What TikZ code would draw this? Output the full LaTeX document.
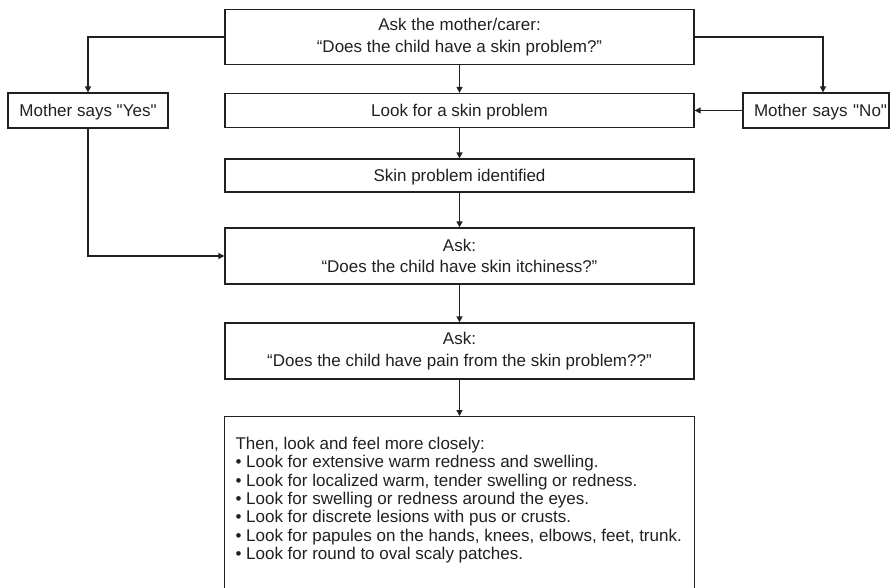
\documentclass[tikz,border=0pt]{standalone}
\usepackage{fontspec}
\setmainfont{Liberation Sans}[Ligatures=TeXOff]
\usetikzlibrary{arrows.meta}
\definecolor{ink}{HTML}{231F20}
\begin{document}
\begin{tikzpicture}[x=1pt,y=-1pt,
  box/.style={draw=ink, line width=1.3pt, text=ink, minimum width=469pt, inner sep=0pt, align=center, font=\fontsize{17pt}{21.5pt}\selectfont},
  oneline/.style={text height=12pt, text depth=0.5pt},
  arr/.style={draw=ink, line width=1.4pt, -{Triangle[length=6pt,width=6pt]}}]
\useasboundingbox (0,0) rectangle (891,587);
\clip (0,0) rectangle (891,587);
\node[box, minimum height=55pt] (top) at (459.5,37) {Ask the mother/carer:\\“Does the child have a skin problem?”};
\node[box, oneline, minimum height=34pt] (look) at (459.5,110.5) {Look for a skin problem};
\node[box, oneline, minimum width=160pt, minimum height=35pt] (yes) at (88,110.5) {Mother says "Yes"};
\node[box, oneline, minimum width=146pt, minimum height=35pt, text width=142pt, align=right] (no) at (816,110.5) {Mother says "No"};
\node[box, oneline, minimum height=33pt] (ident) at (459.5,175.5) {Skin problem identified};
\node[box, minimum height=56pt] (itch) at (459.5,256) {Ask:\\“Does the child have skin itchiness?”};
\node[box, minimum height=56pt] (pain) at (459.5,351) {Ask:\\“Does the child have pain from the skin problem??”};
\node[box, anchor=north, minimum width=470pt, inner xsep=11pt, inner ysep=0pt, align=left] (list) at (459.5,416)
  {\parbox[c][190pt][t]{448pt}{\raggedright\fontsize{17pt}{18.3pt}\selectfont
  \rule{0pt}{33pt}Then, look and feel more closely:\\
  • Look for extensive warm redness and swelling.\\
  • Look for localized warm, tender swelling or redness.\\
  • Look for swelling or redness around the eyes.\\
  • Look for discrete lesions with pus or crusts.\\
  • Look for papules on the hands, knees, elbows, feet, trunk.\\
  • Look for round to oval scaly patches.}};
\draw[arr] (top.west) -| (yes.north);
\draw[arr] (top.east) -| ([xshift=7pt]no.north);
\draw[arr] (no.west) -- (look.east);
\draw[arr] (yes.south) |- (itch.west);
\draw[arr] (top.south) -- (look.north);
\draw[arr] (look.south) -- (ident.north);
\draw[arr] (ident.south) -- (itch.north);
\draw[arr] (itch.south) -- (pain.north);
\draw[arr] (pain.south) -- (list.north);
\end{tikzpicture}
\end{document}
